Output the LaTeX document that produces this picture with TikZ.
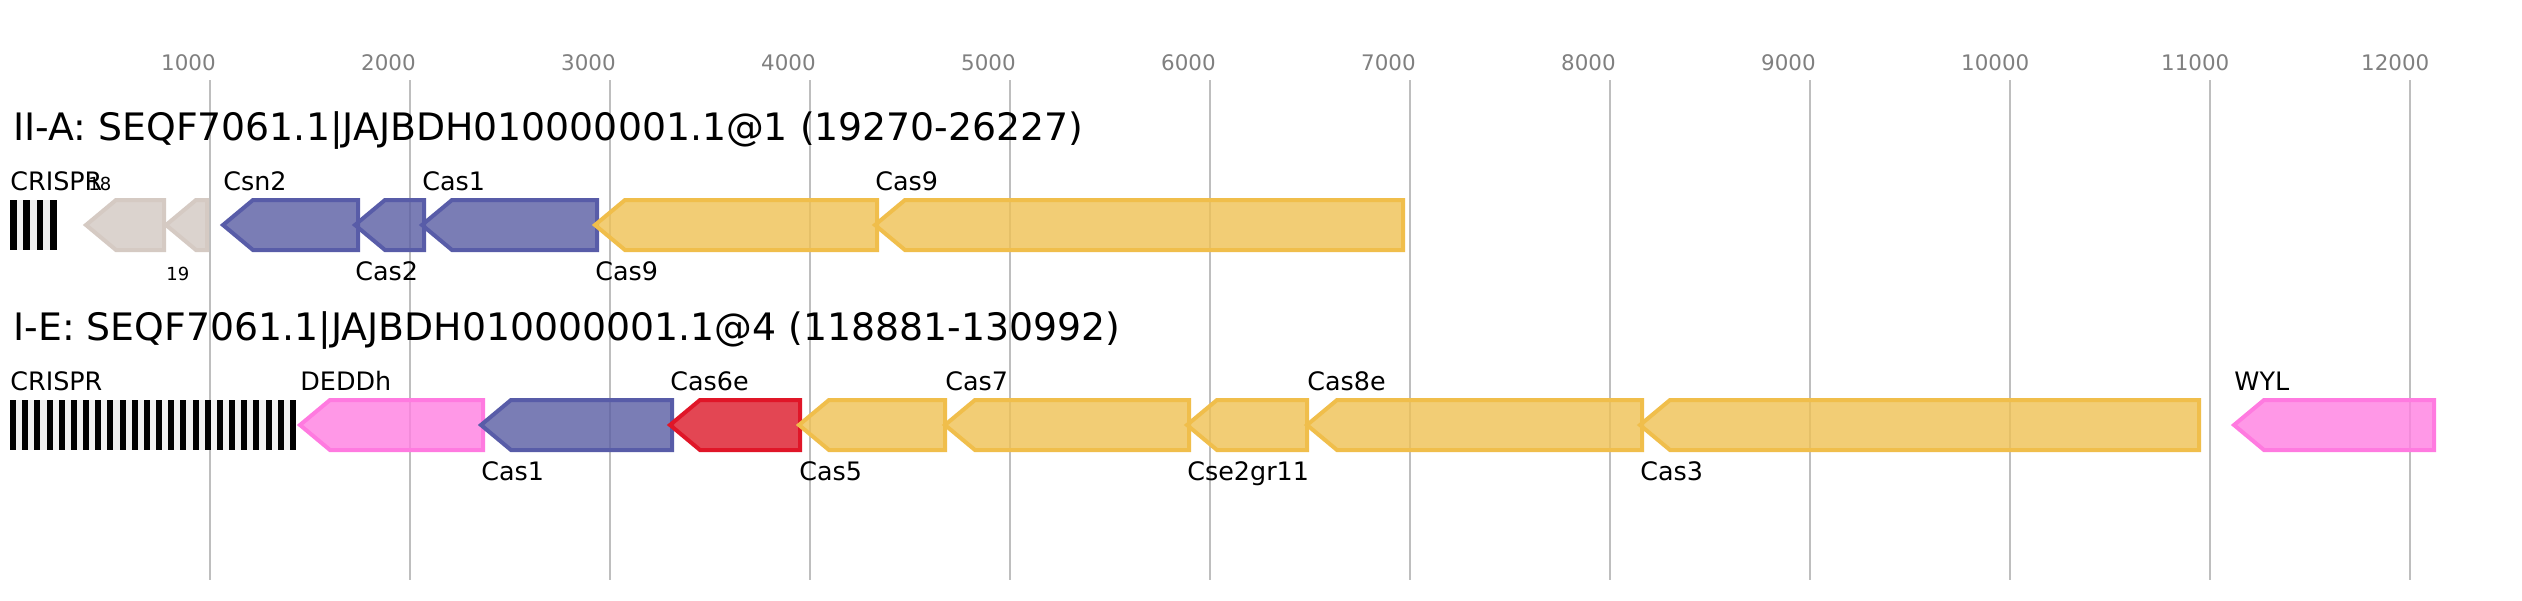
\documentclass[tikz,border=0pt]{standalone}
\usepackage{fontspec}
\setmainfont{DejaVu Sans}
\definecolor{gridc}{RGB}{190,190,190}
\definecolor{axisc}{RGB}{128,128,128}
\definecolor{grayfill}{RGB}{211,201,194}
\definecolor{grayedge}{RGB}{213,202,195}
\definecolor{bluefill}{RGB}{89,93,163}
\definecolor{blueedge}{RGB}{88,92,168}
\definecolor{yelfill}{RGB}{239,193,83}
\definecolor{yeledge}{RGB}{240,190,75}
\definecolor{pinkfill}{RGB}{255,127,226}
\definecolor{pinkedge}{RGB}{255,122,224}
\definecolor{redfill}{RGB}{221,24,40}
\definecolor{rededge}{RGB}{224,22,40}
\definecolor{crisprbg}{RGB}{240,240,240}
% tip, right, centre y, style
\newcommand{\geneshape}[4]{%
  \pgfmathsetmacro{\gsh}{min(#1+30,#2)}%
  \path[#4] (#1,#3) -- (\gsh,#3-25) -- (#2,#3-25) -- (#2,#3+25) -- (\gsh,#3+25) -- cycle;}
\begin{document}
\begin{tikzpicture}[x=0.5pt,y=-0.5pt,
  gridline/.style={draw=gridc, line width=1pt},
  axislbl/.style={anchor=base west, inner sep=0pt, text=axisc, font=\fontsize{10.7}{12}\selectfont},
  titlelbl/.style={anchor=base west, inner sep=0pt, font=\fontsize{18.9}{22}\selectfont},
  glbl/.style={anchor=base west, inner sep=0pt, font=\fontsize{12.7}{15}\selectfont},
  slbl/.style={anchor=base west, inner sep=0pt, font=\fontsize{9}{11}\selectfont},
  genebase/.style={line width=2pt, line join=miter, fill opacity=0.8},
  graygene/.style={genebase, draw=grayedge, fill=grayfill},
  bluegene/.style={genebase, draw=blueedge, fill=bluefill},
  yelgene/.style={genebase, draw=yeledge, fill=yelfill},
  pinkgene/.style={genebase, draw=pinkedge, fill=pinkfill},
  redgene/.style={genebase, draw=rededge, fill=redfill},
]
\useasboundingbox[fill=white] (0,0) rectangle (2522,600);

% grid and axis
\foreach \v in {1000,2000,...,12000} {
  \pgfmathsetmacro{\gx}{9.8+0.2*\v}
  \draw[gridline] (\gx,80) -- (\gx,580);
  \node[axislbl] (ax\v) at (\gx-49,70) {\v};
}

% titles
\node[titlelbl] (t1) at (13,140) {II-A: SEQF7061.1|JAJBDH010000001.1@1 (19270-26227)};
\node[titlelbl] (t2) at (13,340) {I-E: SEQF7061.1|JAJBDH010000001.1@4 (118881-130992)};

% ---- row II-A ----
\fill[crisprbg] (10,200) rectangle (57,250);
\foreach \i in {0,...,3} {\fill[black] (10+\i*13.33,200) rectangle (16.7+\i*13.33,250);}
\geneshape{86}{164}{225}{graygene}
\geneshape{166}{207}{225}{graygene}
\geneshape{223}{358}{225}{bluegene}
\geneshape{355}{424}{225}{bluegene}
\geneshape{422}{597}{225}{bluegene}
\geneshape{595}{877}{225}{yelgene}
\geneshape{875}{1403}{225}{yelgene}

\node[glbl] (l1) at (10,190) {CRISPR};
\node[slbl] (l2) at (88,190) {18};
\node[slbl] (l3) at (166,280) {19};
\node[glbl] (l4) at (223,190) {Csn2};
\node[glbl] (l5) at (355,280) {Cas2};
\node[glbl] (l6) at (422,190) {Cas1};
\node[glbl] (l7) at (595,280) {Cas9};
\node[glbl] (l8) at (875,190) {Cas9};

% ---- row I-E ----
\fill[crisprbg] (10,400) rectangle (296,450);
\foreach \i in {0,...,23} {\fill[black] (10+\i*12.17,400) rectangle (16+\i*12.17,450);}
\geneshape{300}{483}{425}{pinkgene}
\geneshape{481}{672}{425}{bluegene}
\geneshape{670}{800}{425}{redgene}
\geneshape{799}{945}{425}{yelgene}
\geneshape{945}{1189}{425}{yelgene}
\geneshape{1187}{1307}{425}{yelgene}
\geneshape{1307}{1642}{425}{yelgene}
\geneshape{1640}{2199}{425}{yelgene}
\geneshape{2234}{2434}{425}{pinkgene}

\node[glbl] (m1) at (10,390) {CRISPR};
\node[glbl] (m2) at (300,390) {DEDDh};
\node[glbl] (m3) at (481,480) {Cas1};
\node[glbl] (m4) at (670,390) {Cas6e};
\node[glbl] (m5) at (799,480) {Cas5};
\node[glbl] (m6) at (945,390) {Cas7};
\node[glbl] (m7) at (1187,480) {Cse2gr11};
\node[glbl] (m8) at (1307,390) {Cas8e};
\node[glbl] (m9) at (1640,480) {Cas3};
\node[glbl] (m10) at (2234,390) {WYL};
\end{tikzpicture}
\end{document}
